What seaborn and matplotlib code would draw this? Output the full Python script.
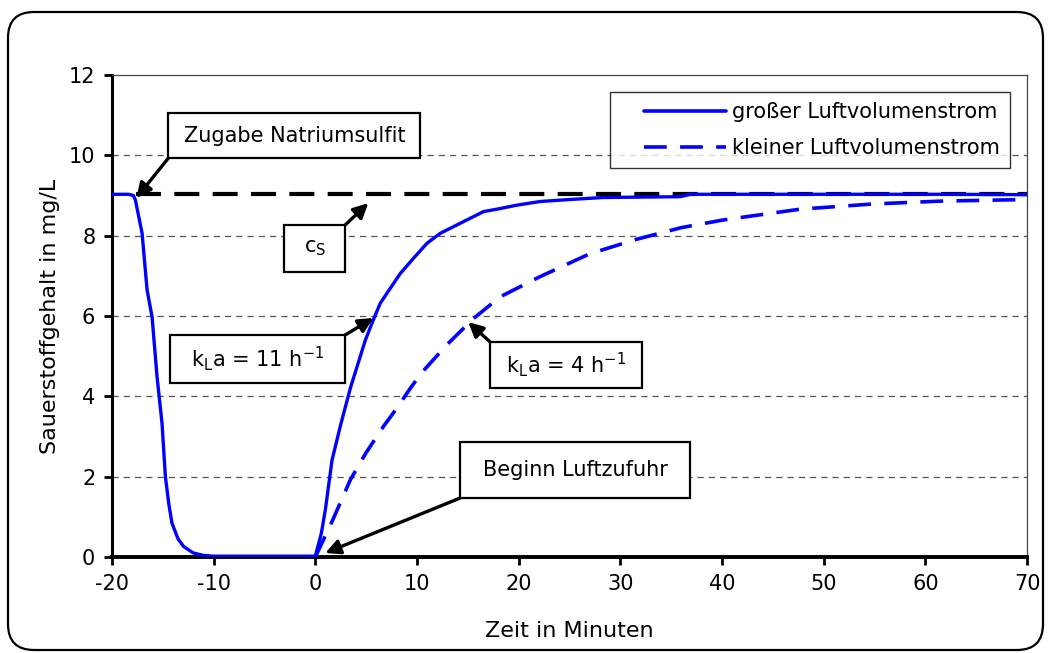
import numpy as np
import pandas as pd
import matplotlib
matplotlib.use("Agg")
import matplotlib.pyplot as plt
from matplotlib.patches import FancyBboxPatch, Rectangle
from matplotlib.lines import Line2D
from matplotlib.legend_handler import HandlerLine2D
import seaborn as sns

# ---------------- data ----------------
t_big = [-20, -18.4, -17.9, -17.7, -17.04, -16.55, -16.06, -15.57, -15.08,
         -14.75, -14.4, -14.1, -13.5, -12.95, -12.0, -11.0, -10.0, 0.0,
         0.6, 1.0, 1.64, 2.5, 3.44, 4.92, 5.57, 6.39, 7.4, 8.36, 9.7, 10.98,
         12.3, 14.26, 16.55, 17.87, 19.83, 22.1, 25.0, 28.3, 32.0, 35.9,
         36.9, 45.0, 55.0, 62.0, 70.0]
y_big = [9.03, 9.03, 9.0, 8.89, 8.06, 6.65, 5.98, 4.49, 3.33,
         2.0, 1.3, 0.84, 0.45, 0.26, 0.1, 0.04, 0.02, 0.02,
         0.6, 1.2, 2.41, 3.3, 4.2, 5.4, 5.82, 6.32, 6.7, 7.06, 7.45, 7.81,
         8.06, 8.31, 8.6, 8.66, 8.76, 8.85, 8.9, 8.95, 8.96, 8.97,
         9.03, 9.03, 9.03, 9.03, 9.02]

t_small = [0.0, 1.64, 3.44, 5.0, 6.7, 8.0, 9.34, 10.5, 13.0, 15.57, 18.2,
           22.1, 27.0, 31.6, 36.0, 40.1, 47.7, 54.9, 61.5, 70.0]
y_small = [0.0, 0.88, 1.92, 2.6, 3.25, 3.7, 4.2, 4.6, 5.3, 5.94, 6.48,
           6.98, 7.55, 7.91, 8.2, 8.39, 8.66, 8.79, 8.86, 8.9]

cs_t = [-17.6, 70.0]
cs_y = [9.03, 9.03]

series_names = ["großer Luftvolumenstrom", "kleiner Luftvolumenstrom"]
x_ticks = [-20, -10, 0, 10, 20, 30, 40, 50, 60, 70]
y_ticks = [0, 2, 4, 6, 8, 10, 12]
x_label = "Zeit in Minuten"
y_label = "Sauerstoffgehalt in mg/L"

# ---------------- style ----------------
sns.set_style("white")
plt.rcParams["font.family"] = ["DejaVu Sans"]
plt.rcParams["mathtext.default"] = "regular"
for k in ["text.color", "axes.labelcolor", "xtick.color", "ytick.color"]:
    plt.rcParams[k] = "black"
FS = 15

fig = plt.figure(figsize=(10.5, 6.53), dpi=100)
ax = fig.add_axes([112 / 1050, 1 - 557 / 653, (1027 - 112) / 1050, (557 - 75) / 653])

# rounded outer frame
frame = FancyBboxPatch((0.08, 0.03), 10.35, 6.38,
                       boxstyle="round,pad=0,rounding_size=0.26",
                       transform=fig.dpi_scale_trans, fill=False,
                       edgecolor="black", linewidth=1.6, zorder=0)
fig.patches.append(frame)

# gridlines
for yv in y_ticks[1:-1]:
    ax.axhline(yv, color="#555555", lw=0.9, ls=(0, (5, 4)), zorder=1)

df_big = pd.DataFrame({"t": t_big, "y": y_big})
df_small = pd.DataFrame({"t": t_small, "y": y_small})
df_cs = pd.DataFrame({"t": cs_t, "y": cs_y})

sns.lineplot(data=df_cs, x="t", y="y", ax=ax, color="black", lw=3.0,
             linestyle=(0, (6.0, 3.2)), zorder=2)
sns.lineplot(data=df_small, x="t", y="y", ax=ax, color="#0000FF", lw=2.6,
             linestyle=(0, (6.3, 3.7)), zorder=3)
sns.lineplot(data=df_big, x="t", y="y", ax=ax, color="#0000FF", lw=2.4,
             zorder=4)

ax.set_xlim(-20, 70)
ax.set_ylim(0, 12)
ax.set_xticks(x_ticks)
ax.set_yticks(y_ticks)
ax.set_xticklabels([str(v) for v in x_ticks], fontsize=FS)
ax.set_yticklabels([str(v) for v in y_ticks], fontsize=FS)
ax.set_xlabel(x_label, fontsize=FS + 1, labelpad=20)
ax.set_ylabel(y_label, fontsize=FS + 1, labelpad=6)
ax.tick_params(axis="both", direction="out", length=6, width=2,
               color="black", pad=6, bottom=True, left=True)

for side in ["top", "right"]:
    ax.spines[side].set_visible(True)
    ax.spines[side].set_linewidth(0.9)
    ax.spines[side].set_color("#444444")
ax.spines["left"].set_linewidth(2.2)
ax.spines["bottom"].set_linewidth(2.8)
ax.spines["left"].set_color("black")
ax.spines["bottom"].set_color("black")


# legend: handle drawn in the right part of a wider handle box
class RightLine(HandlerLine2D):
    def create_artists(self, legend, orig_handle, xdescent, ydescent,
                       width, height, fontsize, trans):
        frac = 0.78
        return super().create_artists(legend, orig_handle,
                                      xdescent - width * (1 - frac), ydescent,
                                      width * frac, height, fontsize, trans)


handles = [Line2D([], [], color="#0000FF", lw=2.6),
           Line2D([], [], color="#0000FF", lw=2.6, ls=(0, (6.3, 3.7)))]
leg = ax.legend(handles, series_names, loc="upper right",
                bbox_to_anchor=(1010 / 1050, 1 - 92 / 653),
                bbox_transform=fig.transFigure, fontsize=FS,
                frameon=True, fancybox=False, edgecolor="black",
                handlelength=5.1, handletextpad=0.25, borderpad=0.5,
                labelspacing=0.75, borderaxespad=0,
                handler_map={Line2D: RightLine()})
leg.get_frame().set_linewidth(1.0)


def box_note(text, x0, x1, y0, y1, corner, tip):
    ax.add_patch(Rectangle((x0, y0), x1 - x0, y1 - y0, fc="white",
                           ec="black", lw=1.6, zorder=6))
    ax.text((x0 + x1) / 2, (y0 + y1) / 2, text, ha="center", va="center",
            fontsize=FS, zorder=7)
    ax.annotate("", xy=tip, xytext=corner, textcoords="data", zorder=5,
                arrowprops=dict(arrowstyle="-|>", color="black", lw=2.4,
                                mutation_scale=22, shrinkA=0, shrinkB=0))


box_note("Zugabe Natriumsulfit", -14.46, 10.33, 9.93, 11.05,
         (-14.46, 9.93), (-17.6, 8.94))
box_note("c$_\\mathregular{S}$", -3.05, 2.95, 7.10, 8.27,
         (2.95, 8.27), (5.21, 8.81))
box_note("k$_\\mathregular{L}$a = 11 h$^\\mathregular{-1}$", -14.26, 2.95,
         4.33, 5.53, (2.95, 5.53), (5.7, 5.95))
box_note("k$_\\mathregular{L}$a = 4 h$^\\mathregular{-1}$", 17.21, 32.16,
         4.21, 5.35, (17.21, 5.35), (15.04, 5.85))
box_note("Beginn Luftzufuhr", 14.26, 36.89, 1.47, 2.86,
         (14.26, 1.47), (0.98, 0.1))

fig.savefig("out.png", dpi=100)
